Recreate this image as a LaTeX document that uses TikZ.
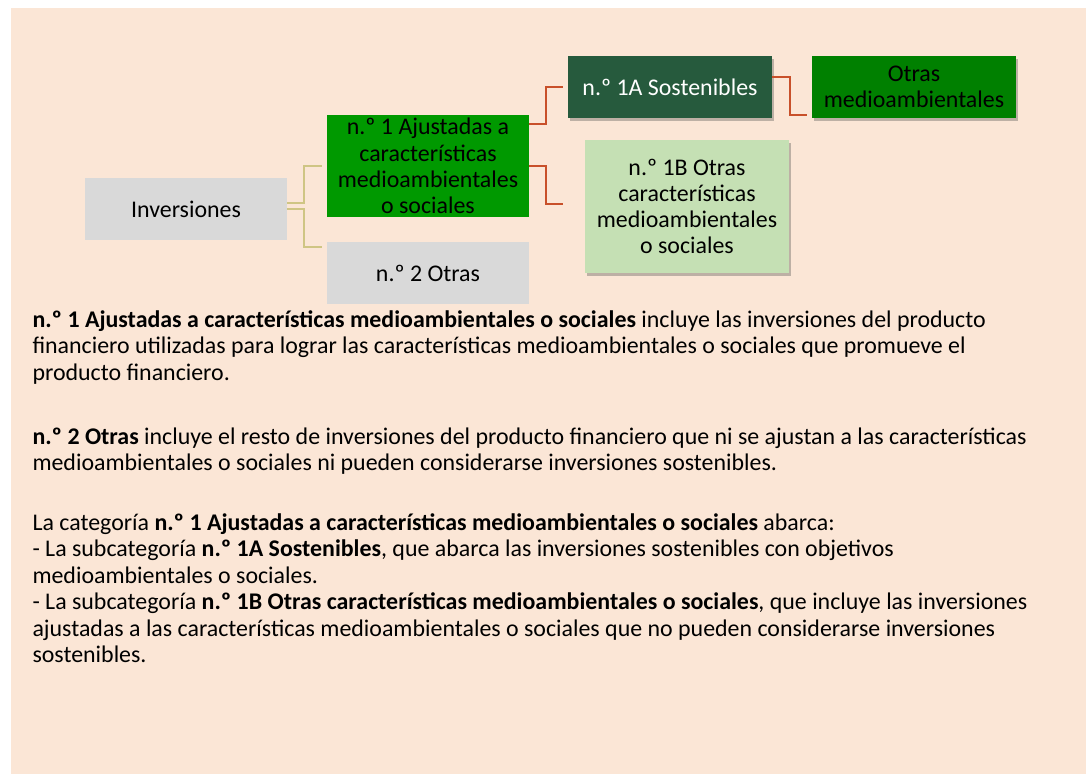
\documentclass[tikz,border=0pt]{standalone}
\usepackage{fontspec}
\setmainfont{Carlito}
\usepackage{tikz}
\usetikzlibrary{shadows}
\definecolor{fondo}{HTML}{FBE6D6}
\definecolor{gris}{HTML}{D9D9D9}
\definecolor{verde}{HTML}{009900}
\definecolor{verdeosc}{HTML}{265A3D}
\definecolor{verdemed}{HTML}{008000}
\definecolor{verdeclaro}{HTML}{C5E0B4}
\definecolor{caqui}{HTML}{CFC584}
\definecolor{rojizo}{HTML}{C8502A}

\begin{document}
\begin{tikzpicture} [x=1pt,y=-1pt,
  caja/.style={inner sep=0pt,align=center,font=\fontsize{23.9}{26.2}\selectfont},
  sombra/.style={drop shadow={shadow xshift=2pt,shadow yshift=-3pt,opacity=0.35,fill=black!70}},
  texto/.style={inner sep=0pt,align=left,anchor=base west,font=\fontsize{23.9}{26.4}\selectfont},
  linea caqui/.style={draw=caqui,line width=2pt},
  linea roja/.style={draw=rojizo,line width=2.3pt}]
\useasboundingbox (0,0) rectangle (1091,774);
\fill[white] (0,0) rectangle (1091,774);
\fill[fondo] (11,8) rectangle (1086,774);
\node[caja,fill=gris,minimum width=202pt,minimum height=62pt] (inv) at (186,209) {Inversiones};
\node[caja,fill=verde,minimum width=202pt,minimum height=102pt] (aju) at (428,166) {n.º 1 Ajustadas a\\características\\medioambientales\\o sociales};
\node[caja,fill=gris,minimum width=202pt,minimum height=62pt] (otr) at (428,273) {n.º 2 Otras};
\node[caja,sombra,fill=verdeosc,text=white,minimum width=204pt,minimum height=62pt] (sos) at (670,87) {n.º 1A Sostenibles};
\node[caja,sombra,fill=verdemed,minimum width=204pt,minimum height=62pt] (oma) at (914,87) {Otras\\medioambientales};
\node[caja,sombra,fill=verdeclaro,minimum width=204pt,minimum height=133pt] (oca) at (687,206.5) {n.º 1B Otras\\características\\medioambientales\\o sociales};
\coordinate (k1) at (321.5,166);
\coordinate (k2) at (321.5,247);
\coordinate (r1) at (563.3,86.7);
\coordinate (r2) at (563.3,203.7);
\coordinate (s1) at (807,115);
\draw[linea caqui] ([yshift=6pt]inv.east) -| ([xshift=-17.5pt]k1) -- (k1);
\draw[linea caqui] (inv.east) -| ([xshift=-17.5pt]k2) -- (k2);
\draw[linea roja] ([yshift=41.7pt]aju.east) -| ([xshift=-17.6pt]r1) -- (r1);
\draw[linea roja] (aju.east) -| ([xshift=-17.6pt]r2) -- (r2);
\draw[linea roja] ([yshift=9.7pt]sos.east) -| ([xshift=-17.3pt]s1) -- (s1);
\node[texto] (p1) at (32.3,380) {\textbf{n.º 1 Ajustadas a características medioambientales o sociales} incluye las inversiones del producto\\financiero utilizadas para lograr las características medioambientales o sociales que promueve el\\producto financiero.};
\node[texto] (p2) at (32.3,470.5) {\textbf{n.º 2 Otras} incluye el resto de inversiones del producto financiero que ni se ajustan a las características\\medioambientales o sociales ni pueden considerarse inversiones sostenibles.};
\node[texto] (p3) at (32.3,662.5) {La categoría \textbf{n.º 1 Ajustadas a características medioambientales o sociales} abarca:\\- La subcategoría \textbf{n.º 1A Sostenibles}, que abarca las inversiones sostenibles con objetivos\\medioambientales o sociales.\\- La subcategoría \textbf{n.º 1B Otras características medioambientales o sociales}, que incluye las inversiones\\ajustadas a las características medioambientales o sociales que no pueden considerarse inversiones\\sostenibles.};
\end{tikzpicture}
\end{document}
